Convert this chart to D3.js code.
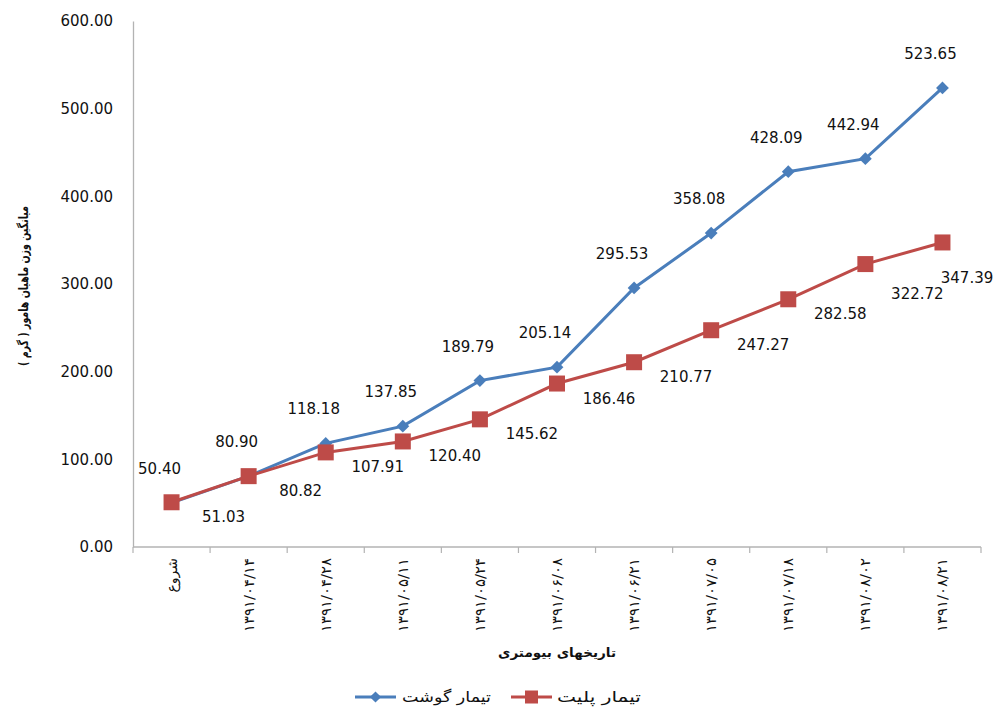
<!DOCTYPE html>
<html>
<head>
<meta charset="utf-8">
<script src="https://cdn.jsdelivr.net/npm/d3@7/dist/d3.min.js"></script>
<style>
  html, body { margin: 0; padding: 0; background: #fff; }
  svg { display: block; }
  text { font-family: "DejaVu Sans", sans-serif; fill: #111; }
</style>
</head>
<body>
<svg id="chart" width="999" height="708"></svg>
<script>
// Biometry dates (Persian calendar) and mean fish weights per treatment
const categories = ["شروع", "۱۳۹۱/۰۴/۱۴", "۱۳۹۱/۰۴/۲۸", "۱۳۹۱/۰۵/۱۱", "۱۳۹۱/۰۵/۲۴",
  "۱۳۹۱/۰۶/۰۸", "۱۳۹۱/۰۶/۲۱", "۱۳۹۱/۰۷/۰۵", "۱۳۹۱/۰۷/۱۸", "۱۳۹۱/۰۸/۰۲", "۱۳۹۱/۰۸/۲۱"];
const meatValues = [50.40, 80.90, 118.18, 137.85, 189.79, 205.14, 295.53, 358.08, 428.09, 442.94, 523.65];
const pelletValues = [51.03, 80.82, 107.91, 120.40, 145.62, 186.46, 210.77, 247.27, 282.58, 322.72, 347.39];
const yTicks = [0, 100, 200, 300, 400, 500, 600];
const seriesNames = ["تیمار گوشت", "تیمار پلیت"];

const W = 999, H = 708;
const plot = { left: 133, right: 981, top: 21, bottom: 547 };
const blue = "#4A7EBB", red = "#BE4B48";

const svg = d3.select("#chart");

const x = d3.scaleBand().domain(categories).range([plot.left, plot.right]).padding(0);
const y = d3.scaleLinear().domain([0, 600]).range([plot.bottom, plot.top]);
const cx = i => x(categories[i]) + x.bandwidth() / 2;

// Y axis: line + labels, no tick marks
const yAxis = svg.append("g")
  .attr("transform", `translate(${plot.left},0)`)
  .call(d3.axisLeft(y).tickValues(yTicks).tickSize(0).tickPadding(20).tickFormat(d3.format(".2f")));
yAxis.select(".domain").attr("stroke", "#b3b3b3").attr("stroke-width", 1.3);
yAxis.selectAll("text").style("font-size", "15px").attr("font-family", "DejaVu Sans, sans-serif").attr("fill", "#111");

// X axis: line with tick marks at category boundaries
const xg = svg.append("g").attr("transform", `translate(0,${plot.bottom})`);
xg.append("line").attr("x1", plot.left).attr("x2", plot.right).attr("y1", 0).attr("y2", 0)
  .attr("stroke", "#b3b3b3").attr("stroke-width", 1.3);
const boundaries = categories.map(c => x(c)).concat([plot.right]);
xg.selectAll("line.tick").data(boundaries).join("line").attr("class", "tick")
  .attr("x1", d => d).attr("x2", d => d).attr("y1", 0).attr("y2", 6)
  .attr("stroke", "#b3b3b3").attr("stroke-width", 1.2);
xg.selectAll("text.cat").data(categories).join("text").attr("class", "cat")
  .attr("transform", d => `translate(${x(d) + x.bandwidth() / 2 + 5},11) rotate(-90)`)
  .attr("text-anchor", "end")
  .style("font-size", "14px")
  .each(function (d, i) {
    const t = d3.select(this).text(d);
    if (i > 0) t.attr("textLength", 74).attr("lengthAdjust", "spacingAndGlyphs");
  });

// Axis titles
svg.append("text")
  .attr("transform", `translate(28,${(plot.top + plot.bottom) / 2 + 2}) rotate(-90)`)
  .attr("text-anchor", "middle").attr("font-weight", "bold").style("font-size", "13px")
  .attr("direction", "rtl")
  .attr("textLength", 160).attr("lengthAdjust", "spacingAndGlyphs")
  .text("میانگین وزن ماهیان هامور ( گرم )");
svg.append("text")
  .attr("x", 557).attr("y", 657)
  .attr("text-anchor", "middle").attr("font-weight", "bold").style("font-size", "13px")
  .attr("direction", "rtl")
  .attr("textLength", 118).attr("lengthAdjust", "spacingAndGlyphs")
  .text("تاریخهای بیومتری");

const line = d3.line().x((d, i) => cx(i)).y(d => y(d));
const diamond = d3.symbol().type(d3.symbolDiamond2);

// Meat series (blue, diamonds)
svg.append("path").datum(meatValues).attr("d", line)
  .attr("fill", "none").attr("stroke", blue).attr("stroke-width", 3);
svg.selectAll("path.meat").data(meatValues).join("path").attr("class", "meat")
  .attr("transform", (d, i) => `translate(${cx(i)},${y(d)})`)
  .attr("d", diamond.size(105)).attr("fill", blue);

// Pellet series (red, squares) drawn on top
svg.append("path").datum(pelletValues).attr("d", line)
  .attr("fill", "none").attr("stroke", red).attr("stroke-width", 3);
svg.selectAll("rect.pel").data(pelletValues).join("rect").attr("class", "pel")
  .attr("x", (d, i) => cx(i) - 8).attr("y", d => y(d) - 8)
  .attr("width", 16).attr("height", 16).attr("fill", red);

// Value labels
const fmt = d3.format(".2f");
svg.selectAll("text.meatLbl").data(meatValues).join("text").attr("class", "meatLbl")
  .attr("x", (d, i) => cx(i) - 12).attr("y", d => y(d) - 29)
  .attr("text-anchor", "middle").style("font-size", "15px")
  .text(d => fmt(d));

// Pellet labels sit right of the point; keep them inside the chart and
// push a label down when it would collide with the following one.
const lblHalfW = 30, lblH = 16;
const pelPos = pelletValues.map((d, i) => {
  const px = cx(i) + 52;
  return px > W - 32 ? { x: W - 32, y: y(d) + 41 } : { x: px, y: y(d) + 20 };
});
for (let i = pelPos.length - 2; i >= 0; i--) {
  const a = pelPos[i], b = pelPos[i + 1];
  if (Math.abs(a.x - b.x) < 2 * lblHalfW && Math.abs(a.y - b.y) < lblH) a.y = b.y + lblH;
}
svg.selectAll("text.pelLbl").data(pelletValues).join("text").attr("class", "pelLbl")
  .attr("x", (d, i) => pelPos[i].x)
  .attr("y", (d, i) => pelPos[i].y)
  .attr("text-anchor", "middle").style("font-size", "15px")
  .text(d => fmt(d));

// Legend
const lg = svg.append("g").attr("transform", "translate(0,697)");
lg.append("line").attr("x1", 355).attr("x2", 396).attr("stroke", blue).attr("stroke-width", 3);
lg.append("path").attr("transform", "translate(375.5,0)").attr("d", diamond.size(80)).attr("fill", blue);
lg.append("text").attr("x", 491).attr("y", 5).style("font-size", "15px")
  .attr("direction", "rtl").attr("text-anchor", "start")
  .attr("textLength", 89).attr("lengthAdjust", "spacingAndGlyphs")
  .text(seriesNames[0]);
lg.append("line").attr("x1", 511).attr("x2", 552).attr("stroke", red).attr("stroke-width", 3);
lg.append("rect").attr("x", 525).attr("y", -6.5).attr("width", 13).attr("height", 13).attr("fill", red);
lg.append("text").attr("x", 641).attr("y", 5).style("font-size", "15px")
  .attr("direction", "rtl").attr("text-anchor", "start")
  .attr("textLength", 84).attr("lengthAdjust", "spacingAndGlyphs")
  .text(seriesNames[1]);
</script>
</body>
</html>
